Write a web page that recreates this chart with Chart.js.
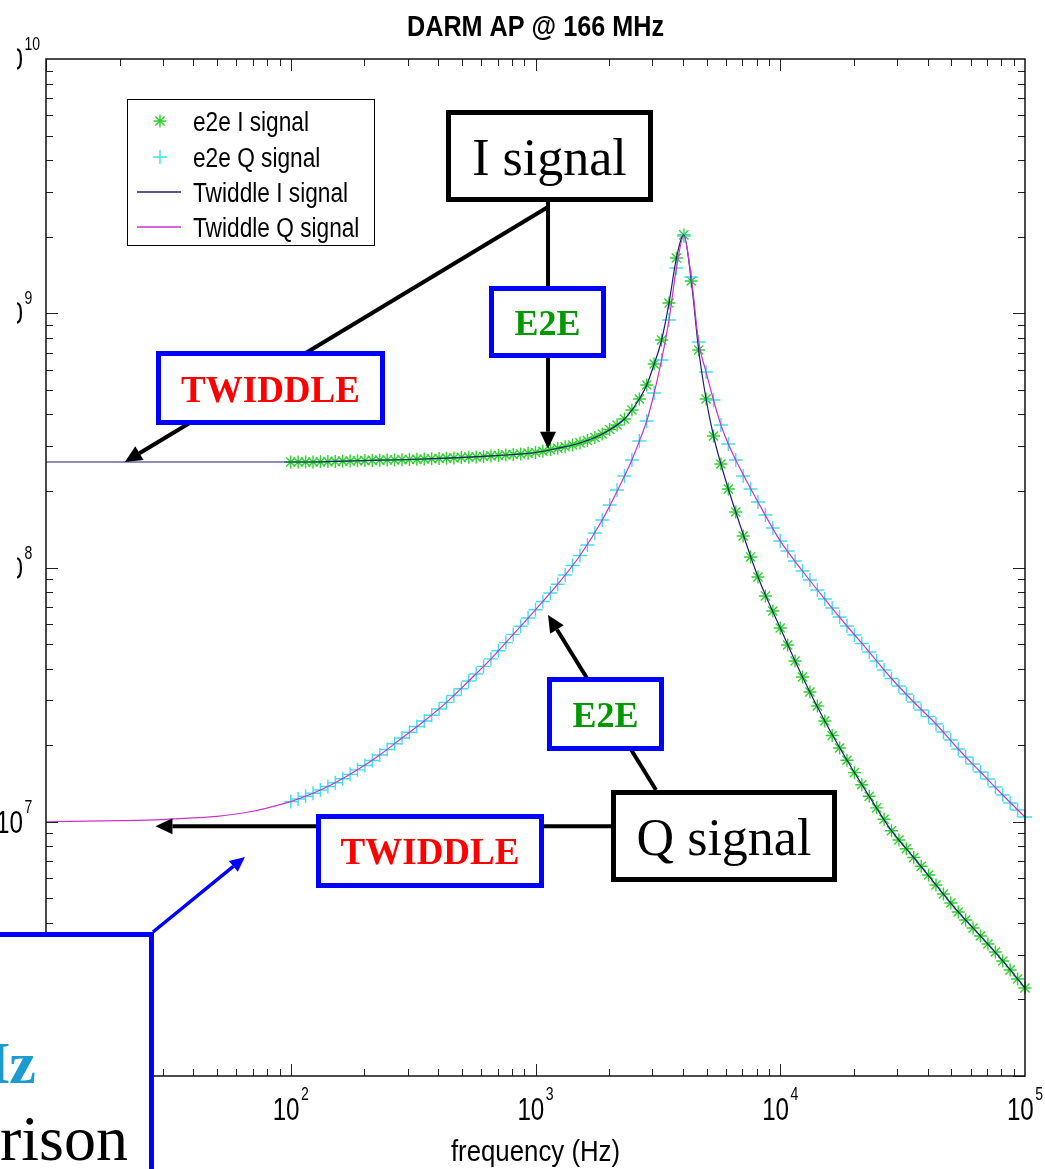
<!DOCTYPE html>
<html>
<head>
<meta charset="utf-8">
<title>DARM AP @ 166 MHz</title>
<script src="https://cdn.jsdelivr.net/npm/chart.js@4.4.1/dist/chart.umd.min.js"></script>
<style>
  html, body { margin: 0; padding: 0; background: #fff; }
  canvas { display: block; }
</style>
</head>
<body>
<canvas id="darm" width="1045" height="1169"></canvas>
<script>
// e2e simulation: 100 log-spaced frequencies, 100 Hz .. 100 kHz
const e2eFreqHz = [
  100, 107.2, 115.0, 123.3, 132.2, 141.8, 152.0, 163.0, 174.8, 187.4,
  200.9, 215.4, 231.0, 247.7, 265.6, 284.8, 305.4, 327.5, 351.1, 376.5,
  403.7, 432.9, 464.2, 497.7, 533.7, 572.2, 613.6, 657.9, 705.5, 756.5,
  811.1, 869.7, 932.6, 1000, 1072, 1150, 1233, 1322, 1418, 1520,
  1630, 1748, 1874, 2009, 2154, 2310, 2477, 2656, 2848, 3054,
  3275, 3511, 3765, 4037, 4329, 4642, 4977, 5337, 5722, 6136,
  6579, 7055, 7565, 8111, 8697, 9326, 10000, 10723, 11498, 12330,
  13221, 14177, 15202, 16301, 17480, 18738, 20092, 21544, 23101, 24771,
  26561, 28480, 30539, 32745, 35112, 37649, 40370, 43288, 46416, 49770,
  53367, 57224, 61359, 65793, 70548, 75646, 81113, 86975, 93260, 100000
];
const e2eI = [
  2.600e8, 2.600e8, 2.600e8, 2.600e8, 2.605e8, 2.610e8, 2.614e8, 2.619e8, 2.624e8, 2.629e8,
  2.633e8, 2.638e8, 2.643e8, 2.648e8, 2.648e8, 2.653e8, 2.660e8, 2.665e8, 2.672e8, 2.677e8,
  2.684e8, 2.691e8, 2.696e8, 2.709e8, 2.716e8, 2.721e8, 2.733e8, 2.746e8, 2.758e8, 2.771e8,
  2.783e8, 2.796e8, 2.816e8, 2.834e8, 2.865e8, 2.909e8, 2.944e8, 2.984e8, 3.033e8, 3.089e8,
  3.159e8, 3.246e8, 3.351e8, 3.490e8, 3.635e8, 3.838e8, 4.164e8, 4.600e8, 5.221e8, 6.316e8,
  7.849e8, 1.097e9, 1.649e9, 2.032e9, 1.339e9, 7.170e8, 4.600e8, 3.290e8, 2.553e8, 2.036e8,
  1.653e8, 1.330e8, 1.100e8, 9.177e7, 7.727e7, 6.745e7, 5.781e7, 4.957e7, 4.288e7, 3.710e7,
  3.238e7, 2.853e7, 2.490e7, 2.184e7, 1.950e7, 1.745e7, 1.560e7, 1.398e7, 1.259e7, 1.134e7,
  1.023e7, 9.222e6, 8.477e6, 7.834e6, 7.234e6, 6.681e6, 6.174e6, 5.640e6, 5.199e6, 4.792e6,
  4.417e6, 4.108e6, 3.820e6, 3.553e6, 3.305e6, 3.074e6, 2.834e6, 2.612e6, 2.407e6, 2.219e6
];
const e2eQ = [
  1.200e7, 1.229e7, 1.260e7, 1.294e7, 1.333e7, 1.376e7, 1.424e7, 1.477e7, 1.536e7, 1.600e7,
  1.665e7, 1.742e7, 1.831e7, 1.925e7, 2.026e7, 2.135e7, 2.250e7, 2.370e7, 2.490e7, 2.625e7,
  2.776e7, 2.947e7, 3.137e7, 3.336e7, 3.578e7, 3.812e7, 4.083e7, 4.371e7, 4.702e7, 5.065e7,
  5.456e7, 5.877e7, 6.330e7, 6.819e7, 7.345e7, 7.938e7, 8.596e7, 9.344e7, 1.018e8, 1.115e8,
  1.226e8, 1.367e8, 1.538e8, 1.761e8, 2.017e8, 2.290e8, 2.648e8, 3.144e8, 3.769e8, 4.857e8,
  6.550e8, 9.407e8, 1.506e9, 2.013e9, 1.389e9, 7.707e8, 5.874e8, 4.559e8, 3.634e8, 3.060e8,
  2.648e8, 2.290e8, 2.036e8, 1.810e8, 1.609e8, 1.430e8, 1.272e8, 1.161e8, 1.061e8, 9.688e7,
  8.930e7, 8.157e7, 7.517e7, 6.931e7, 6.388e7, 5.887e7, 5.426e7, 5.024e7, 4.651e7, 4.288e7,
  3.953e7, 3.660e7, 3.420e7, 3.179e7, 2.958e7, 2.752e7, 2.590e7, 2.424e7, 2.255e7, 2.097e7,
  1.933e7, 1.798e7, 1.687e7, 1.569e7, 1.473e7, 1.370e7, 1.274e7, 1.185e7, 1.113e7, 1.044e7
];

// Twiddle model curves, 10 Hz .. 100 kHz
const twiddleFreqHz = [
  10, 20, 30, 40, 50, 70, 85,
  100, 123.3, 152.0, 187.4, 231.0, 284.8, 351.1, 432.9, 533.7, 657.9, 811.1, 1000, 1233, 1520, 1874, 2310,
  2477, 2656, 2848, 3054, 3275, 3511, 3765, 4037, 4329, 4642, 4977, 5337, 5722, 6136, 6579,
  8111, 10000, 12330, 15202, 18738, 23101, 28480, 35112, 43288, 53367, 65793, 81113, 100000
];
const twiddleI = [
  2.60e8, 2.60e8, 2.60e8, 2.60e8, 2.60e8, 2.60e8, 2.60e8,
  2.600e8, 2.600e8, 2.614e8, 2.629e8, 2.643e8, 2.653e8, 2.672e8, 2.691e8, 2.716e8, 2.746e8, 2.783e8, 2.834e8, 2.944e8, 3.089e8, 3.351e8, 3.838e8,
  4.164e8, 4.600e8, 5.221e8, 6.316e8, 7.849e8, 1.097e9, 1.649e9, 2.032e9, 1.339e9, 7.170e8, 4.600e8, 3.290e8, 2.553e8, 2.036e8, 1.653e8,
  9.177e7, 5.781e7, 3.710e7, 2.490e7, 1.745e7, 1.259e7, 9.222e6, 7.234e6, 5.640e6, 4.417e6, 3.553e6, 2.834e6, 2.219e6
];
const twiddleQ = [
  1.000e7, 1.010e7, 1.020e7, 1.035e7, 1.050e7, 1.100e7, 1.150e7,
  1.200e7, 1.294e7, 1.424e7, 1.600e7, 1.831e7, 2.135e7, 2.490e7, 2.947e7, 3.578e7, 4.371e7, 5.456e7, 6.819e7, 8.596e7, 1.115e8, 1.538e8, 2.290e8,
  2.648e8, 3.144e8, 3.769e8, 4.857e8, 6.550e8, 9.407e8, 1.506e9, 2.013e9, 1.389e9, 7.707e8, 5.874e8, 4.559e8, 3.634e8, 3.060e8, 2.648e8,
  1.810e8, 1.272e8, 9.688e7, 7.517e7, 5.887e7, 4.651e7, 3.660e7, 2.958e7, 2.424e7, 1.933e7, 1.569e7, 1.274e7, 1.044e7
];

// decade tick labels, written as 10^n
const xTickExp = [1, 2, 3, 4, 5];
const yTickExp = [6, 7, 8, 9, 10];

const GREEN = '#2fd12f';
const CYAN = '#3fdfea';
const NAVY = '#1e1e7a';
const MAGENTA = '#cc33cc';
const BLUE = '#0000ff';
const SANS = "'Liberation Sans', Arial, Helvetica, sans-serif";
const SERIF = "'Liberation Serif', 'Times New Roman', serif";

const pts = (fs, vs) => fs.map((f, i) => ({ x: f, y: vs[i] }));

// text squeezed horizontally (narrow figure font)
function squeezed(ctx, str, x, y, font, sx, align, color) {
  ctx.save();
  ctx.font = font;
  ctx.fillStyle = color || '#000';
  ctx.textAlign = align || 'left';
  ctx.textBaseline = 'alphabetic';
  ctx.translate(x, y);
  ctx.scale(sx, 1);
  ctx.fillText(str, 0, 0);
  ctx.restore();
}
function squeezedWidth(ctx, str, font, sx) {
  ctx.save();
  ctx.font = font;
  const w = ctx.measureText(str).width * sx;
  ctx.restore();
  return w;
}

const TICK_FONT = `31px ${SANS}`;
const SUP_FONT = `18px ${SANS}`;
const TICK_SX = 0.78;

// "10" with a raised exponent; baseLeft/baseline refer to the "10"
function powerLabel(ctx, exp, baseLeft, baseline) {
  const wBase = squeezedWidth(ctx, '10', TICK_FONT, TICK_SX);
  squeezed(ctx, '10', baseLeft, baseline, TICK_FONT, TICK_SX, 'left');
  squeezed(ctx, String(exp), baseLeft + wBase + 1.5, baseline - 20, SUP_FONT, TICK_SX, 'left');
}

const axesBox = {
  id: 'axesBox',
  afterDatasetsDraw(chart) {
    const { ctx, chartArea: a } = chart;
    const xs = chart.scales.x, ys = chart.scales.y;
    ctx.save();

    // tick marks on all four sides, pointing inward
    ctx.strokeStyle = '#222';
    ctx.lineWidth = 1;
    ctx.beginPath();
    for (let e = 1; e <= 4; e++) {
      for (let m = 1; m <= 9; m++) {
        const px = Math.round(xs.getPixelForValue(m * 10 ** e)) + 0.5;
        const len = m === 1 ? 12 : 7;
        ctx.moveTo(px, a.bottom); ctx.lineTo(px, a.bottom - len);
        ctx.moveTo(px, a.top); ctx.lineTo(px, a.top + len);
      }
    }
    for (let e = 6; e <= 9; e++) {
      for (let m = 1; m <= 9; m++) {
        const py = Math.round(ys.getPixelForValue(m * 10 ** e)) + 0.5;
        const len = m === 1 ? 12 : 7;
        ctx.moveTo(a.left, py); ctx.lineTo(a.left + len, py);
        ctx.moveTo(a.right, py); ctx.lineTo(a.right - len, py);
      }
    }
    ctx.stroke();

    ctx.strokeStyle = '#111';
    ctx.lineWidth = 1.5;
    ctx.strokeRect(a.left, a.top, a.right - a.left, a.bottom - a.top);

    // decade labels
    const wBase = squeezedWidth(ctx, '10', TICK_FONT, TICK_SX);
    xTickExp.forEach(n => {
      const px = xs.getPixelForValue(10 ** n);
      const wSup = squeezedWidth(ctx, String(n), SUP_FONT, TICK_SX);
      powerLabel(ctx, n, px - (wBase + 1.5 + wSup) / 2, a.bottom + 44);
    });
    yTickExp.forEach(n => {
      const py = ys.getPixelForValue(10 ** n);
      powerLabel(ctx, n, 23 - wBase, py + 11);
    });

    // title and axis label
    const cx = (a.left + a.right) / 2;
    squeezed(ctx, 'DARM AP @ 166 MHz', cx, 36, `bold 30px ${SANS}`, 0.84, 'center');
    squeezed(ctx, 'frequency (Hz)', cx, 1161, `30px ${SANS}`, 0.86, 'center');

    // legend
    ctx.fillStyle = '#fff';
    ctx.fillRect(127, 99, 247, 147);
    ctx.strokeStyle = '#000';
    ctx.lineWidth = 1;
    ctx.strokeRect(127.5, 99.5, 247, 146);
    const rows = [121, 157, 192, 227];
    chart.data.datasets.forEach((ds, i) => {
      const yy = rows[i];
      ctx.strokeStyle = ds.borderColor;
      if (ds.showLine) {
        ctx.lineWidth = 1.4;
        ctx.beginPath();
        ctx.moveTo(137, yy); ctx.lineTo(181, yy);
        ctx.stroke();
      } else {
        ctx.lineWidth = ds.borderWidth;
        Chart.helpers.drawPoint(ctx, { pointStyle: ds.pointStyle, radius: ds.pointRadius, rotation: 0, borderWidth: ds.borderWidth }, 160, yy);
      }
      squeezed(ctx, ds.label, 193, yy + 9.5, `27px ${SANS}`, 0.84, 'left');
    });

    // the left edge strip is blank down to the 10^7 label
    ctx.fillStyle = '#fff';
    ctx.fillRect(0, 0, 17, 790);
    ctx.restore();
  }
};

function arrow(ctx, x0, y0, x1, y1, color, width, headLen, headW) {
  const ang = Math.atan2(y1 - y0, x1 - x0);
  const bx = x1 - headLen * Math.cos(ang), by = y1 - headLen * Math.sin(ang);
  ctx.strokeStyle = color;
  ctx.lineWidth = width;
  ctx.beginPath();
  ctx.moveTo(x0, y0); ctx.lineTo(bx, by);
  ctx.stroke();
  ctx.fillStyle = color;
  ctx.beginPath();
  ctx.moveTo(x1, y1);
  ctx.lineTo(bx + headW / 2 * Math.sin(ang), by - headW / 2 * Math.cos(ang));
  ctx.lineTo(bx - headW / 2 * Math.sin(ang), by + headW / 2 * Math.cos(ang));
  ctx.closePath();
  ctx.fill();
}

function textBox(ctx, x0, y0, x1, y1, stroke, text, font, color, baseline) {
  ctx.fillStyle = '#fff';
  ctx.fillRect(x0, y0, x1 - x0, y1 - y0);
  ctx.strokeStyle = stroke;
  ctx.lineWidth = 5;
  ctx.strokeRect(x0 + 2.5, y0 + 2.5, x1 - x0 - 5, y1 - y0 - 5);
  ctx.font = font;
  ctx.fillStyle = color;
  ctx.textAlign = 'center';
  ctx.textBaseline = 'alphabetic';
  ctx.fillText(text, (x0 + x1) / 2, baseline);
}

const callouts = {
  id: 'callouts',
  afterDraw(chart) {
    const { ctx } = chart;
    const xs = chart.scales.x, ys = chart.scales.y;
    const at = (f, v) => [xs.getPixelForValue(f), ys.getPixelForValue(v)];
    ctx.save();

    // I signal: arrows to the Twiddle line and the e2e points
    const [tIx, tIy] = at(21, 2.6e8);
    const [eIx, eIy] = at(1125, 2.93e8);
    arrow(ctx, 548, 207, tIx, tIy, '#000', 4, 17, 16);
    arrow(ctx, eIx, 200, eIx, eIy, '#000', 4, 17, 16);

    // Q signal: arrows to the Twiddle line and the e2e points
    const [tQx, tQy] = at(28, 9.6e6);
    const [eQx, eQy] = at(1125, 6.5e7);
    arrow(ctx, 612, tQy, tQx, tQy, '#000', 4, 17, 16);
    arrow(ctx, 656, 790, eQx, eQy, '#000', 4, 17, 16);

    textBox(ctx, 446, 110, 653, 202, '#000', 'I signal', `52px ${SERIF}`, '#000', 175);
    textBox(ctx, 489, 286, 606, 358, BLUE, 'E2E', `bold 36px ${SERIF}`, '#009900', 335);
    textBox(ctx, 156, 351, 385, 425, BLUE, 'TWIDDLE', `bold 37px ${SERIF}`, '#ff0000', 402);
    textBox(ctx, 611, 790, 837, 882, '#000', 'Q signal', `52px ${SERIF}`, '#000', 855);
    textBox(ctx, 316, 814, 544, 888, BLUE, 'TWIDDLE', `bold 37px ${SERIF}`, '#ff0000', 864);
    textBox(ctx, 547, 677, 664, 751, BLUE, 'E2E', `bold 36px ${SERIF}`, '#009900', 727);

    // side note box in the lower left corner
    const [nx, ny] = at(65, 7.27e6);
    arrow(ctx, 153, 932, nx, ny, BLUE, 3.5, 15, 14);
    ctx.fillStyle = '#fff';
    ctx.fillRect(-20, 932, 172, 260);
    ctx.strokeStyle = BLUE;
    ctx.lineWidth = 5;
    ctx.strokeRect(-20, 934.5, 171.5, 260);
    ctx.textAlign = 'right';
    ctx.textBaseline = 'alphabetic';
    ctx.font = `bold 60px ${SERIF}`;
    ctx.fillStyle = '#1b9bd1';
    ctx.fillText('166 MHz', 36, 1083);
    ctx.font = `64px ${SERIF}`;
    ctx.fillStyle = '#000';
    ctx.fillText('comparison', 128, 1160);
    ctx.restore();
  }
};

new Chart(document.getElementById('darm'), {
  type: 'scatter',
  data: {
    datasets: [
      {
        label: 'e2e I signal',
        data: pts(e2eFreqHz, e2eI),
        showLine: false,
        pointStyle: 'star',
        pointRadius: 6.5,
        borderWidth: 1.4,
        borderColor: GREEN,
        backgroundColor: GREEN,
        order: 3,
        clip: false
      },
      {
        label: 'e2e Q signal',
        data: pts(e2eFreqHz, e2eQ),
        showLine: false,
        pointStyle: 'cross',
        pointRadius: 7,
        borderWidth: 1.4,
        borderColor: CYAN,
        backgroundColor: CYAN,
        order: 2,
        clip: false
      },
      {
        label: 'Twiddle I signal',
        data: pts(twiddleFreqHz, twiddleI),
        showLine: true,
        cubicInterpolationMode: 'monotone',
        pointRadius: 0,
        borderWidth: 1.2,
        borderColor: NAVY,
        order: 1,
        clip: false
      },
      {
        label: 'Twiddle Q signal',
        data: pts(twiddleFreqHz, twiddleQ),
        showLine: true,
        cubicInterpolationMode: 'monotone',
        pointRadius: 0,
        borderWidth: 1.2,
        borderColor: MAGENTA,
        order: 0,
        clip: false
      }
    ]
  },
  options: {
    responsive: false,
    animation: false,
    events: [],
    layout: { padding: { left: 46, top: 59, right: 20, bottom: 93 } },
    scales: {
      x: { type: 'logarithmic', min: 10, max: 1e5, display: false },
      y: { type: 'logarithmic', min: 1e6, max: 1e10, display: false }
    },
    plugins: {
      legend: { display: false },
      tooltip: { enabled: false }
    }
  },
  plugins: [axesBox, callouts]
});
</script>
</body>
</html>
